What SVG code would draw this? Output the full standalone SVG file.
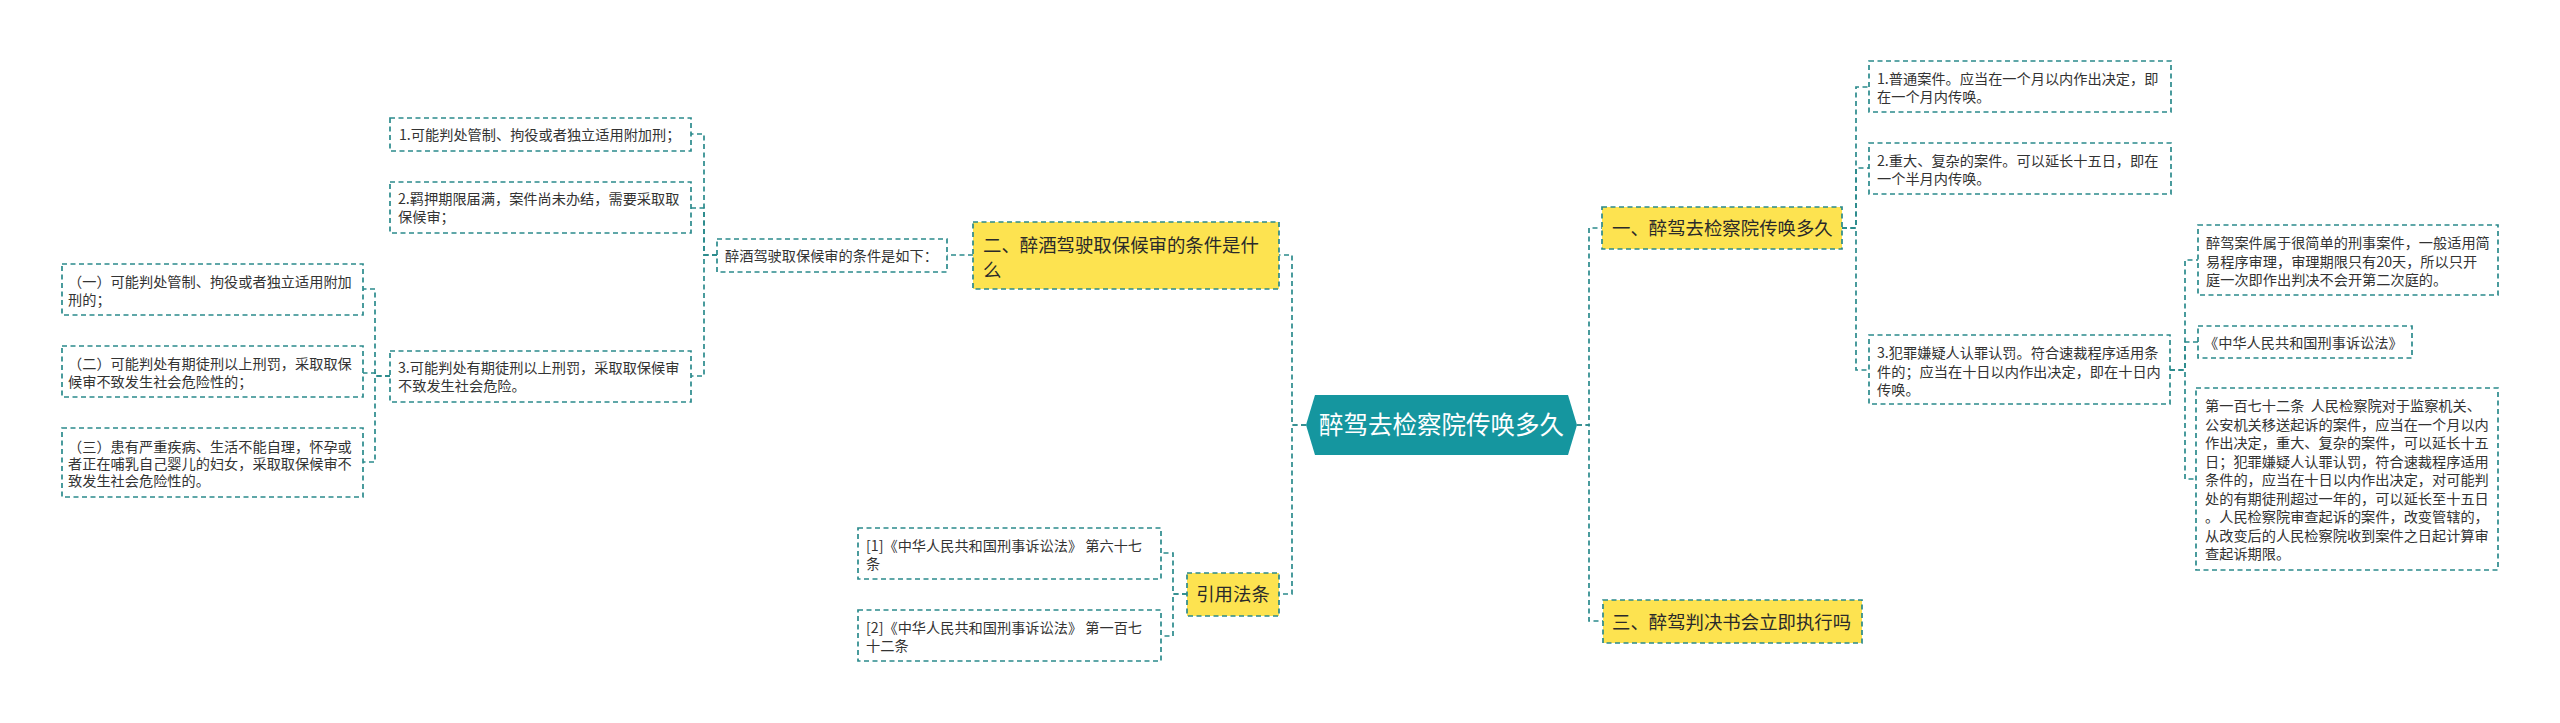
<svg xmlns="http://www.w3.org/2000/svg" width="2560" height="723" viewBox="0 0 2560 723">
<style>
.bx{fill:#ffffff;stroke:#2b8a8c;stroke-width:1.7;stroke-dasharray:5 3.5}
.yb{fill:#fde350;stroke:#2b8a8c;stroke-width:1.7;stroke-dasharray:5 3.5}
.cn{fill:none;stroke:#2b8a8c;stroke-width:1.7;stroke-dasharray:5 3.5}
.t{font-family:"Noto Sans CJK SC","Noto Sans",sans-serif;font-size:14.2px;fill:#333333;white-space:pre}
.ty{font-family:"Noto Sans CJK SC","Noto Sans",sans-serif;font-size:18.4px;fill:#2a2a2a}
.tc{font-family:"Noto Sans CJK SC","Noto Sans",sans-serif;font-size:24.5px;fill:#ffffff}
</style>
<rect width="2560" height="723" fill="#ffffff"/>
<g id="connectors">
<path class="cn" d="M1306 425 H1292 V255 H1279"/>
<path class="cn" d="M1306 425 H1292 V594 H1279"/>
<path class="cn" d="M1577 425 H1589 V228 H1602"/>
<path class="cn" d="M1577 425 H1589 V621 H1603"/>
<path class="cn" d="M973 255 H947"/>
<path class="cn" d="M717 255 H704 V134 H691"/>
<path class="cn" d="M717 255 H704 V208 H691"/>
<path class="cn" d="M717 255 H704 V376 H691"/>
<path class="cn" d="M390 376 H375 V289 H363"/>
<path class="cn" d="M390 376 H375 V373 H363"/>
<path class="cn" d="M390 376 H375 V462 H363"/>
<path class="cn" d="M1187 594 H1173 V553 H1161"/>
<path class="cn" d="M1187 594 H1173 V636 H1161"/>
<path class="cn" d="M1842 228 H1856 V87 H1869"/>
<path class="cn" d="M1842 228 H1856 V168 H1869"/>
<path class="cn" d="M1842 228 H1856 V370 H1869"/>
<path class="cn" d="M2170 370 H2185 V260 H2198"/>
<path class="cn" d="M2170 370 H2185 V342 H2198"/>
<path class="cn" d="M2170 370 H2185 V479 H2196"/>
</g>
<g id="root">
<polygon points="1306,425 1315,395 1568,395 1577,425 1568,455 1315,455" fill="#15969f"/>
<text class="tc" x="1441.5" y="434" text-anchor="middle">醉驾去检察院传唤多久</text>
</g>
<g id="n2">
<rect class="yb" x="973" y="222" width="306" height="67"/>
<text class="ty" x="983" y="251.5">二、醉酒驾驶取保候审的条件是什</text>
<text class="ty" x="983" y="276.5">么</text>
</g>
<g id="n2-label">
<rect class="bx" x="717" y="239" width="230" height="33"/>
<text class="t" x="725" y="261">醉酒驾驶取保候审的条件是如下：</text>
</g>
<g id="n2-1">
<rect class="bx" x="390" y="118" width="301" height="33"/>
<text class="t" x="399" y="140">1.可能判处管制、拘役或者独立适用附加刑；</text>
</g>
<g id="n2-2">
<rect class="bx" x="390" y="182" width="301" height="51"/>
<text class="t" x="398" y="204">2.羁押期限届满，案件尚未办结，需要采取取</text>
<text class="t" x="398" y="222">保候审；</text>
</g>
<g id="n2-3">
<rect class="bx" x="390" y="351" width="301" height="51"/>
<text class="t" x="398" y="373">3.可能判处有期徒刑以上刑罚，采取取保候审</text>
<text class="t" x="398" y="391">不致发生社会危险。</text>
</g>
<g id="n2-3-1">
<rect class="bx" x="62" y="264" width="301" height="51"/>
<text class="t" x="68" y="287">（一）可能判处管制、拘役或者独立适用附加</text>
<text class="t" x="68" y="305">刑的；</text>
</g>
<g id="n2-3-2">
<rect class="bx" x="62" y="346" width="301" height="51"/>
<text class="t" x="68" y="369">（二）可能判处有期徒刑以上刑罚，采取取保</text>
<text class="t" x="68" y="387">候审不致发生社会危险性的；</text>
</g>
<g id="n2-3-3">
<rect class="bx" x="62" y="428" width="301" height="69"/>
<text class="t" x="68" y="452">（三）患有严重疾病、生活不能自理，怀孕或</text>
<text class="t" x="68" y="469">者正在哺乳自己婴儿的妇女，采取取保候审不</text>
<text class="t" x="68" y="486">致发生社会危险性的。</text>
</g>
<g id="ref">
<rect class="yb" x="1187" y="573" width="92" height="43"/>
<text class="ty" x="1233" y="601" text-anchor="middle">引用法条</text>
</g>
<g id="ref-1">
<rect class="bx" x="858" y="528" width="303" height="51"/>
<text class="t" x="866" y="551">[1]《中华人民共和国刑事诉讼法》 第六十七</text>
<text class="t" x="866" y="569">条</text>
</g>
<g id="ref-2">
<rect class="bx" x="858" y="610" width="303" height="51"/>
<text class="t" x="866" y="633">[2]《中华人民共和国刑事诉讼法》 第一百七</text>
<text class="t" x="866" y="651">十二条</text>
</g>
<g id="n1">
<rect class="yb" x="1602" y="207" width="240" height="42"/>
<text class="ty" x="1612" y="235">一、醉驾去检察院传唤多久</text>
</g>
<g id="n1-1">
<rect class="bx" x="1869" y="61" width="302" height="51"/>
<text class="t" x="1877" y="84">1.普通案件。应当在一个月以内作出决定，即</text>
<text class="t" x="1877" y="102">在一个月内传唤。</text>
</g>
<g id="n1-2">
<rect class="bx" x="1869" y="143" width="302" height="51"/>
<text class="t" x="1877" y="166">2.重大、复杂的案件。可以延长十五日，即在</text>
<text class="t" x="1877" y="184">一个半月内传唤。</text>
</g>
<g id="n1-3">
<rect class="bx" x="1869" y="335" width="301" height="69"/>
<text class="t" x="1877" y="358">3.犯罪嫌疑人认罪认罚。符合速裁程序适用条</text>
<text class="t" x="1877" y="376.5">件的；应当在十日以内作出决定，即在十日内</text>
<text class="t" x="1877" y="395">传唤。</text>
</g>
<g id="n1-3-1">
<rect class="bx" x="2198" y="225" width="300" height="70"/>
<text class="t" x="2206" y="248">醉驾案件属于很简单的刑事案件，一般适用简</text>
<text class="t" x="2206" y="266.5">易程序审理，审理期限只有20天，所以只开</text>
<text class="t" x="2206" y="285">庭一次即作出判决不会开第二次庭的。</text>
</g>
<g id="n1-3-2">
<rect class="bx" x="2198" y="326" width="214" height="32"/>
<text class="t" x="2204" y="348">《中华人民共和国刑事诉讼法》</text>
</g>
<g id="n1-3-3">
<rect class="bx" x="2196" y="388" width="302" height="182"/>
<text class="t" x="2205" y="411">第一百七十二条  人民检察院对于监察机关、</text>
<text class="t" x="2205" y="429.5">公安机关移送起诉的案件，应当在一个月以内</text>
<text class="t" x="2205" y="448">作出决定，重大、复杂的案件，可以延长十五</text>
<text class="t" x="2205" y="466.5">日；犯罪嫌疑人认罪认罚，符合速裁程序适用</text>
<text class="t" x="2205" y="485">条件的，应当在十日以内作出决定，对可能判</text>
<text class="t" x="2205" y="503.5">处的有期徒刑超过一年的，可以延长至十五日</text>
<text class="t" x="2205" y="522">。人民检察院审查起诉的案件，改变管辖的，</text>
<text class="t" x="2205" y="540.5">从改变后的人民检察院收到案件之日起计算审</text>
<text class="t" x="2205" y="559">查起诉期限。</text>
</g>
<g id="n3">
<rect class="yb" x="1603" y="600" width="259" height="43"/>
<text class="ty" x="1612" y="629">三、醉驾判决书会立即执行吗</text>
</g>
</svg>
